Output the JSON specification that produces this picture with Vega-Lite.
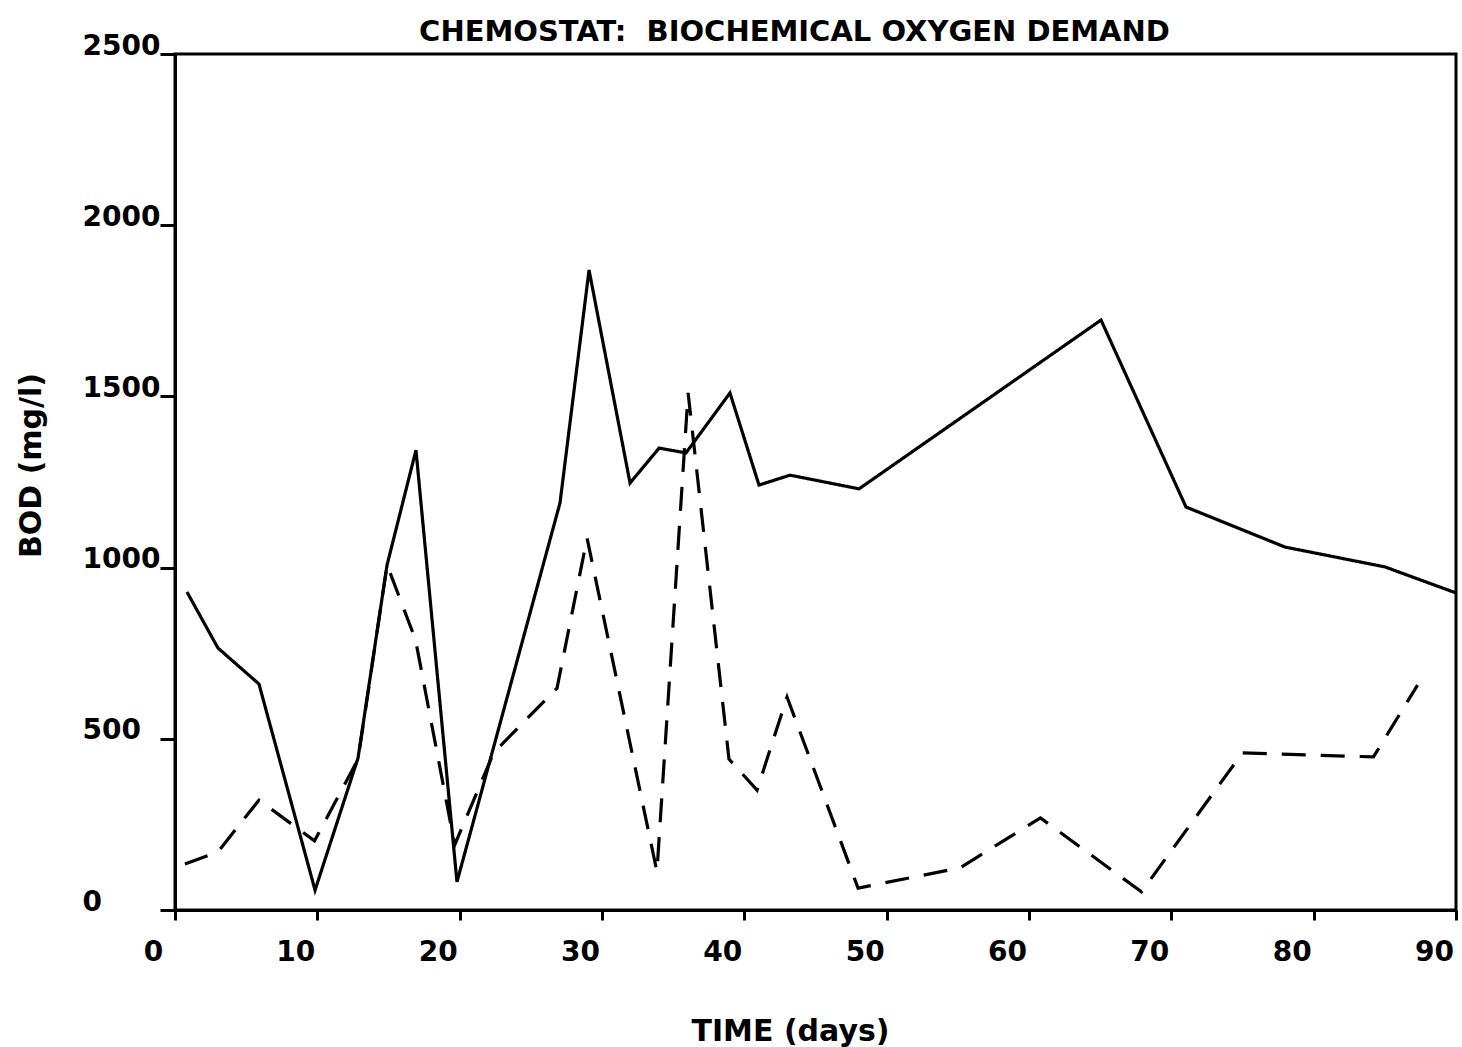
{
  "$schema": "https://vega.github.io/schema/vega-lite/v6.json",
  "width": 1281,
  "height": 856,
  "autosize": "none",
  "padding": {"left": 175, "top": 54, "right": 6, "bottom": 137},
  "background": "white",
  "config": {
    "view": {"stroke": "black", "strokeWidth": 3},
    "font": "DejaVu Sans"
  },
  "title": {
    "text": "CHEMOSTAT:\u00a0 BIOCHEMICAL OXYGEN DEMAND",
    "font": "DejaVu Sans",
    "fontSize": 29,
    "fontWeight": "bold",
    "color": "black",
    "baseline": "alphabetic",
    "offset": -38,
    "dx": -21
  },
  "data": {
    "values": [
      {"series": "A", "day": 0.84, "bod": 929},
      {"series": "A", "day": 3.02, "bod": 765},
      {"series": "A", "day": 5.9, "bod": 660},
      {"series": "A", "day": 9.84, "bod": 58},
      {"series": "A", "day": 12.86, "bod": 444},
      {"series": "A", "day": 14.9, "bod": 1008},
      {"series": "A", "day": 16.93, "bod": 1343},
      {"series": "A", "day": 19.81, "bod": 82},
      {"series": "A", "day": 27.05, "bod": 1189},
      {"series": "A", "day": 29.09, "bod": 1869},
      {"series": "A", "day": 31.97, "bod": 1247},
      {"series": "A", "day": 34.01, "bod": 1349},
      {"series": "A", "day": 35.9, "bod": 1335},
      {"series": "A", "day": 38.99, "bod": 1510},
      {"series": "A", "day": 41.03, "bod": 1241},
      {"series": "A", "day": 43.21, "bod": 1270},
      {"series": "A", "day": 48.06, "bod": 1230},
      {"series": "A", "day": 65.06, "bod": 1723},
      {"series": "A", "day": 71.03, "bod": 1177},
      {"series": "A", "day": 77.99, "bod": 1060},
      {"series": "A", "day": 85.01, "bod": 1002},
      {"series": "A", "day": 90.0, "bod": 926},
      {"series": "B", "day": 0.7, "bod": 134},
      {"series": "B", "day": 3.0, "bod": 169},
      {"series": "B", "day": 5.9, "bod": 321},
      {"series": "B", "day": 9.8, "bod": 202},
      {"series": "B", "day": 12.86, "bod": 440},
      {"series": "B", "day": 14.9, "bod": 1008},
      {"series": "B", "day": 16.9, "bod": 789},
      {"series": "B", "day": 19.65, "bod": 190},
      {"series": "B", "day": 22.4, "bod": 460},
      {"series": "B", "day": 26.84, "bod": 648},
      {"series": "B", "day": 28.95, "bod": 1086},
      {"series": "B", "day": 33.86, "bod": 112},
      {"series": "B", "day": 36.05, "bod": 1510},
      {"series": "B", "day": 38.92, "bod": 441},
      {"series": "B", "day": 40.89, "bod": 350},
      {"series": "B", "day": 43.0, "bod": 622},
      {"series": "B", "day": 47.99, "bod": 64},
      {"series": "B", "day": 55.15, "bod": 123},
      {"series": "B", "day": 60.8, "bod": 269},
      {"series": "B", "day": 67.9, "bod": 53},
      {"series": "B", "day": 75.0, "bod": 459},
      {"series": "B", "day": 84.2, "bod": 447},
      {"series": "B", "day": 87.3, "bod": 657}
    ]
  },
  "mark": {"type": "line", "color": "black", "strokeWidth": 3.2, "clip": true},
  "encoding": {
    "x": {
      "field": "day",
      "type": "quantitative",
      "scale": {"domain": [0, 90], "nice": false, "zero": false},
      "axis": {
        "title": "TIME (days)",
        "values": [0, 10, 20, 30, 40, 50, 60, 70, 80, 90],
        "format": "d",
        "grid": false,
        "domainColor": "black",
        "domainWidth": 3,
        "tickColor": "black",
        "tickWidth": 3,
        "tickSize": 10,
        "labelFont": "DejaVu Sans",
        "labelFontSize": 28,
        "labelFontWeight": "bold",
        "labelColor": "black",
        "labelPadding": 18,
        "labelAlign": "center",
        "labelOffset": -22,
        "labelFlush": false,
        "labelOverlap": false,
        "titleFont": "DejaVu Sans",
        "titleFontSize": 30,
        "titleFontWeight": "bold",
        "titleColor": "black",
        "titleBaseline": "alphabetic",
        "titleAnchor": "middle",
        "titleAlign": "center",
        "titleX": 615,
        "titleY": 130
      }
    },
    "y": {
      "field": "bod",
      "type": "quantitative",
      "scale": {"domain": [0, 2500], "nice": false},
      "axis": {
        "title": "BOD (mg/l)",
        "values": [0, 500, 1000, 1500, 2000, 2500],
        "format": "d",
        "grid": false,
        "domainColor": "black",
        "domainWidth": 3,
        "tickColor": "black",
        "tickWidth": 3,
        "tickSize": 15,
        "labelFont": "DejaVu Sans",
        "labelFontSize": 28,
        "labelFontWeight": "bold",
        "labelColor": "black",
        "labelAlign": "left",
        "labelBaseline": "alphabetic",
        "labelPadding": 78,
        "labelFlush": false,
        "labelOverlap": false,
        "titleFont": "DejaVu Sans",
        "titleFontSize": 30,
        "titleFontWeight": "bold",
        "titleColor": "black",
        "titleAngle": -90,
        "titleBaseline": "alphabetic",
        "titleAlign": "center",
        "titleX": -135,
        "titleY": 411
      }
    },
    "strokeDash": {
      "field": "series",
      "type": "nominal",
      "scale": {"domain": ["A", "B"], "range": [[1, 0], [24, 15]]},
      "legend": null
    }
  }
}
